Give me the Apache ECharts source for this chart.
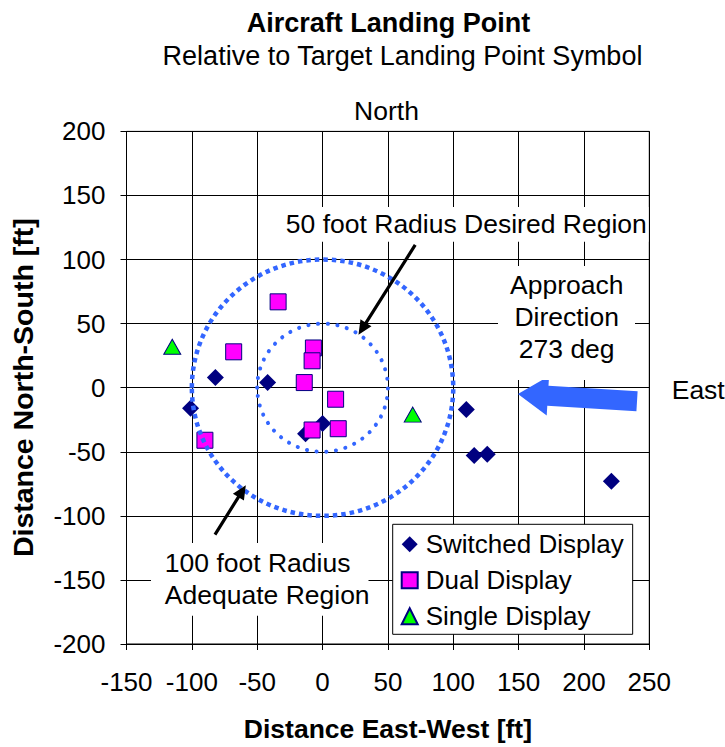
<!DOCTYPE html>
<html><head><meta charset="utf-8">
<script src="https://cdn.jsdelivr.net/npm/echarts@6/dist/echarts.min.js"></script>
<style>html,body{margin:0;padding:0;background:#fff}#c{width:725px;height:747px}</style>
</head><body><div id="c"></div>
<script>
// ---- data ----
const switchedX = [-82, -42, -101, 0, -13, 110, 116, 126, 221];
const switchedY = [8, 4, -16, -28, -36, -17, -53, -52, -73];
const dualX = [-34, -68, -90, -7, -8, -14, 10, -8, 12];
const dualY = [67, 28, -41, 31, 21, 4, -9, -33, -32];
const singleX = [-115, 69];
const singleY = [32, -21];
const circleRadii = [100, 50];
const seriesNames = ['Switched Display', 'Dual Display', 'Single Display'];
// annotation arrows (data coordinates): [fromX, fromY, toX, toY]
const calloutArrows = [[70.9, 111.4, 27.5, 41.4], [-82.3, -114.6, -58.7, -76.1]];
const approachArrow = [[240.6, -10.5, 149.5, -4.9]];

const FONT = '"Liberation Sans", Arial, sans-serif';
const zip = (a, b) => a.map((v, i) => [v, b[i]]);

const chart = echarts.init(document.getElementById('c'), null, {renderer: 'svg'});

function arrowPath(p1, p2, shaftHalf, headHalf, headLen) {
  const dx = p2[0] - p1[0], dy = p2[1] - p1[1];
  const L = Math.hypot(dx, dy), ux = dx / L, uy = dy / L, px = -uy, py = ux;
  const b = [p2[0] - ux * headLen, p2[1] - uy * headLen];
  return [
    [p1[0] + px * shaftHalf, p1[1] + py * shaftHalf],
    [b[0] + px * shaftHalf, b[1] + py * shaftHalf],
    [b[0] + px * headHalf, b[1] + py * headHalf],
    p2,
    [b[0] - px * headHalf, b[1] - py * headHalf],
    [b[0] - px * shaftHalf, b[1] - py * shaftHalf],
    [p1[0] - px * shaftHalf, p1[1] - py * shaftHalf]
  ];
}

function textEl(x, y, text, align) {
  return {type: 'text', x: x, y: y, z: 20, silent: true,
    style: {text: text, font: '26.5px ' + FONT, fill: '#000', align: align || 'center', verticalAlign: 'middle'}};
}
function boxEl(x, y, w, h) {
  return {type: 'rect', z: 15, silent: true, shape: {x: x, y: y, width: w, height: h}, style: {fill: '#fff'}};
}

const option = {
  animation: false,
  backgroundColor: '#fff',
  title: [
    {text: 'Aircraft Landing Point', left: 388.5, top: 9, textAlign: 'center', padding: 0,
     textStyle: {fontFamily: FONT, fontSize: 27, fontWeight: 'bold', color: '#000'}},
    {text: 'Relative to Target Landing Point Symbol', left: 402.5, top: 42.5, textAlign: 'center', padding: 0,
     textStyle: {fontFamily: FONT, fontSize: 27, fontWeight: 'normal', color: '#000'}}
  ],
  grid: {left: 126.5, right: 75.7, top: 131.4, bottom: 99.6, show: true, borderColor: '#000', borderWidth: 1, backgroundColor: '#fff'},
  xAxis: {
    type: 'value', min: -150, max: 250, interval: 50,
    axisLine: {onZero: false, lineStyle: {color: '#000'}},
    axisTick: {show: true, length: 6, lineStyle: {color: '#000'}},
    splitLine: {lineStyle: {color: '#000', width: 1}},
    axisLabel: {fontFamily: FONT, fontSize: 26, color: '#000', margin: 25},
    name: 'Distance East-West [ft]', nameLocation: 'middle', nameGap: 71,
    nameTextStyle: {fontFamily: FONT, fontSize: 26.5, fontWeight: 'bold', color: '#000'}
  },
  yAxis: {
    type: 'value', min: -200, max: 200, interval: 50,
    axisLine: {onZero: false, lineStyle: {color: '#000'}},
    axisTick: {show: true, length: 6, lineStyle: {color: '#000'}},
    splitLine: {lineStyle: {color: '#000', width: 1}},
    axisLabel: {fontFamily: FONT, fontSize: 26, color: '#000', margin: 21},
    name: 'Distance North-South [ft]', nameLocation: 'middle', nameGap: 89,
    nameTextStyle: {fontFamily: FONT, fontSize: 28.5, fontWeight: 'bold', color: '#000'}
  },
  legend: {
    orient: 'vertical', left: 392.7, top: 524.3, data: seriesNames, selectedMode: false,
    backgroundColor: '#fff', borderColor: '#000', borderWidth: 1, borderRadius: 0,
    padding: [7, 9, 5, 8], itemGap: 10, itemWidth: 16, itemHeight: 16,
    textStyle: {fontFamily: FONT, fontSize: 26, color: '#000', lineHeight: 26, padding: [0, 0, 0, 3]}
  },
  graphic: [
    textEl(386.5, 111, 'North'),
    textEl(671.7, 389.5, 'East', 'left'),
    boxEl(281, 207, 367.5, 34.7),
    textEl(466.3, 224.2, '50 foot Radius Desired Region'),
    boxEl(498, 266, 137, 114),
    textEl(566.7, 284.7, 'Approach'),
    textEl(566.7, 317.2, 'Direction'),
    textEl(566.7, 349, '273 deg'),
    boxEl(151, 543, 217.5, 72.7),
    textEl(164.8, 563, '100 foot Radius', 'left'),
    textEl(164.8, 594.6, 'Adequate Region', 'left')
  ],
  series: [
    {name: seriesNames[0], type: 'scatter', data: zip(switchedX, switchedY), symbol: 'diamond', symbolSize: 17,
     itemStyle: {color: '#000080', opacity: 1}, emphasis: {disabled: true}, z: 2},
    {name: seriesNames[1], type: 'scatter', data: zip(dualX, dualY), symbol: 'rect', symbolSize: 16,
     itemStyle: {color: '#FF00FF', borderColor: '#000080', borderWidth: 1, opacity: 1}, emphasis: {disabled: true}, z: 2},
    {name: seriesNames[2], type: 'scatter', data: zip(singleX, singleY), symbol: 'triangle', symbolSize: [17, 15],
     itemStyle: {color: '#00FF00', borderColor: '#000080', borderWidth: 1, opacity: 1}, emphasis: {disabled: true}, z: 2},
    {type: 'custom', name: 'regions', silent: true, z: 5, data: circleRadii.map(r => [0, 0, r]), encode: {x: 0, y: 1},
     renderItem: function (params, api) {
       const c = api.coord([api.value(0), api.value(1)]);
       const r = api.value(2);
       const s = api.size([r, r]);
       const outer = r >= 100;
       return {type: 'ellipse', shape: {cx: c[0], cy: c[1], rx: s[0], ry: s[1]},
         style: {fill: 'none', stroke: '#3366FF', lineWidth: outer ? 4.5 : 4,
                 lineDash: outer ? [4.5, 4] : [0.1, 9.6], lineCap: outer ? 'butt' : 'round'}};
     }},
    {type: 'custom', name: 'callouts', silent: true, z: 6, data: calloutArrows, encode: {x: [0, 2], y: [1, 3]},
     renderItem: function (params, api) {
       const p1 = api.coord([api.value(0), api.value(1)]);
       const p2 = api.coord([api.value(2), api.value(3)]);
       return {type: 'polygon', shape: {points: arrowPath(p1, p2, 1.6, 6.5, 14)}, style: {fill: '#000'}};
     }},
    {type: 'custom', name: 'approach', silent: true, z: 6, data: approachArrow, encode: {x: [0, 2], y: [1, 3]},
     renderItem: function (params, api) {
       const p1 = api.coord([api.value(0), api.value(1)]);
       const p2 = api.coord([api.value(2), api.value(3)]);
       return {type: 'polygon', shape: {points: arrowPath(p1, p2, 10, 19.7, 30)}, style: {fill: '#3366FF'}};
     }}
  ]
};
chart.setOption(option);
</script>
</body></html>
